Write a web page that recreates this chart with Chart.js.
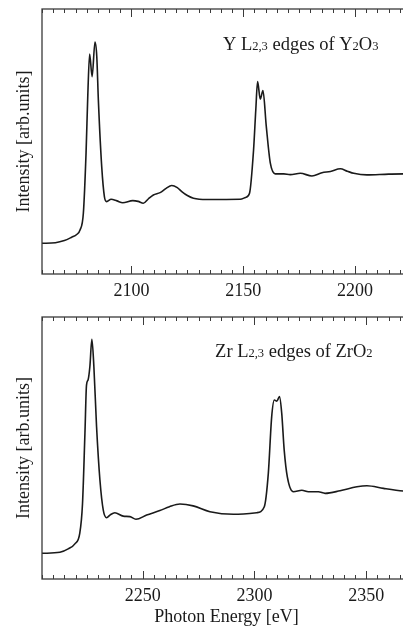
<!DOCTYPE html>
<html>
<head>
<meta charset="utf-8">
<script src="https://cdn.jsdelivr.net/npm/chart.js@4"></script>
<style>
  html, body { margin: 0; padding: 0; background: #fff; overflow: hidden; width: 403px; height: 628px; }
  .panel { position: absolute; left: 0; width: 412px; }
  #topBox { top: 0; height: 310px; }
  #botBox { top: 310px; height: 318px; }
</style>
</head>
<body>
<div id="topBox" class="panel"><canvas id="topChart"></canvas></div>
<div id="botBox" class="panel"><canvas id="botChart"></canvas></div>
<script>
// Y L2,3 edges of Y2O3
const topEnergy = [2060, 2066, 2070, 2073.3, 2075.5, 2077, 2078.5, 2079.7, 2080.5, 2081.3, 2082.4, 2083.7, 2084.5, 2085.2, 2086.7, 2087.9, 2088.9, 2090.9, 2093.5, 2096.1, 2100.6, 2103, 2105.3, 2107.5, 2109.8, 2112.8, 2115.5, 2118, 2120.5, 2122.5, 2125, 2127.7, 2133.7, 2148.6, 2151, 2152.8, 2154.6, 2155.6, 2156.4, 2157.6, 2158.8, 2160.3, 2162.1, 2164.3, 2168.1, 2171, 2175.5, 2180.7, 2185.2, 2189, 2193.4, 2196.5, 2199.4, 2205.3, 2215, 2225];
const topIntensity = [11.6, 11.8, 12.6, 13.9, 14.9, 16.6, 23.0, 45.7, 68, 83.0, 74.5, 87.5, 82, 65.7, 40.5, 29.2, 27.3, 28.2, 27.6, 26.9, 27.7, 27.4, 26.7, 28.3, 29.8, 30.7, 32.3, 33.4, 32.6, 31.1, 29.6, 28.6, 28.1, 28.2, 28.9, 30.5, 46.8, 62, 72.6, 66.0, 69.2, 55.6, 41.8, 37.8, 37.8, 37.5, 38.0, 37.0, 38.2, 38.7, 39.7, 38.8, 38.0, 37.4, 37.7, 37.8];
const topTicks = [2100, 2150, 2200];

// Zr L2,3 edges of ZrO2
const botEnergy = [2205, 2213, 2216.7, 2219.7, 2221.9, 2223.1, 2224.2, 2224.9, 2225.6, 2226.4, 2227.3, 2228.2, 2229.4, 2230.9, 2232.4, 2233.9, 2235.5, 2237.6, 2241.3, 2244.3, 2247, 2251.8, 2257.7, 2262, 2266.7, 2272.6, 2280.1, 2290.6, 2301, 2304.4, 2306.2, 2307.7, 2308.9, 2310, 2311.2, 2312.2, 2313.3, 2314.7, 2317.4, 2321.2, 2324.1, 2328.6, 2331.6, 2338.3, 2345.8, 2350.3, 2357.7, 2366.5, 2370];
const botIntensity = [9.8, 10.2, 11.5, 13.4, 17.5, 28.5, 55.6, 74.0, 76.0, 81.0, 91.5, 81.0, 58.1, 37.8, 26.3, 23.4, 24.5, 25.3, 24.0, 23.8, 22.8, 24.4, 26.1, 27.6, 28.6, 27.9, 25.7, 24.7, 25.3, 27.6, 40.3, 61.9, 68.3, 67.9, 69.6, 63.2, 49.2, 39.0, 33.3, 33.9, 33.3, 33.3, 32.7, 33.7, 35.2, 35.6, 34.6, 33.6, 33.4];
const botTicks = [2250, 2300, 2350];

const serif = '"Liberation Serif", "DejaVu Serif", serif';

// frame + inward ticks (every 5 eV, long every 50)
const framePlugin = {
    id: 'frame',
    afterDraw(chart) {
        const ctx = chart.ctx;
        const a = chart.chartArea;
        const xs = chart.scales.x;
        ctx.save();
        ctx.strokeStyle = '#3a3a3a';
        ctx.lineWidth = 1.3;
        ctx.strokeRect(a.left, a.top, a.right - a.left, a.bottom - a.top);
        ctx.lineWidth = 1;
        ctx.beginPath();
        for (let v = Math.ceil(xs.min / 5) * 5; v <= xs.max; v += 5) {
            const px = Math.round(xs.getPixelForValue(v)) + 0.5;
            const len = v % 50 === 0 ? 8 : 4;
            ctx.moveTo(px, a.bottom);
            ctx.lineTo(px, a.bottom - len);
            ctx.moveTo(px, a.top);
            ctx.lineTo(px, a.top + len);
        }
        ctx.stroke();
        ctx.restore();
    }
};

// label with subscripts, placed in data coordinates
const labelPlugin = {
    id: 'subLabel',
    afterDraw(chart, args, opts) {
        if (!opts.parts) return;
        const ctx = chart.ctx;
        let x = chart.scales.x.getPixelForValue(opts.x);
        const y = chart.scales.y.getPixelForValue(opts.y);
        ctx.save();
        ctx.fillStyle = '#1a1a1a';
        ctx.textBaseline = 'alphabetic';
        opts.parts.forEach(p => {
            ctx.font = (p[1] ? '12.5px ' : '18.5px ') + serif;
            ctx.fillText(p[0], x, y);
            x += ctx.measureText(p[0]).width;
        });
        ctx.restore();
    }
};

function makeChart(id, energy, intensity, ticks, range, pad, axisH, xTitle, label) {
    const ctx = document.getElementById(id).getContext('2d');
    return new Chart(ctx, {
        type: 'line',
        data: {
            datasets: [{
                data: energy.map((e, i) => ({ x: e, y: intensity[i] })),
                borderColor: '#1a1a1a',
                borderWidth: 1.6,
                pointRadius: 0,
                fill: false,
                cubicInterpolationMode: 'monotone'
            }]
        },
        options: {
            responsive: true,
            maintainAspectRatio: false,
            animation: false,
            layout: { padding: pad },
            plugins: {
                legend: { display: false },
                tooltip: { enabled: false },
                subLabel: label
            },
            scales: {
                x: {
                    type: 'linear',
                    min: range[0],
                    max: range[1],
                    afterBuildTicks: s => { s.ticks = ticks.map(v => ({ value: v })); },
                    afterFit: s => { s.height = axisH; },
                    grid: { display: false, drawTicks: false },
                    border: { display: false },
                    ticks: {
                        color: '#1a1a1a',
                        padding: 6,
                        maxRotation: 0,
                        callback: v => String(v),
                        font: { family: serif, size: 18 }
                    },
                    title: {
                        display: !!xTitle,
                        text: xTitle,
                        color: '#1a1a1a',
                        padding: { top: 0, bottom: 0 },
                        font: { family: serif, size: 18 }
                    }
                },
                y: {
                    min: 0,
                    max: 100,
                    afterFit: s => { s.width = 42; },
                    grid: { display: false },
                    border: { display: false },
                    ticks: { display: false },
                    title: {
                        display: true,
                        text: 'Intensity [arb.units]',
                        color: '#1a1a1a',
                        padding: { top: 13, bottom: 0 },
                        font: { family: serif, size: 18 }
                    }
                }
            }
        },
        plugins: [framePlugin, labelPlugin]
    });
}

makeChart('topChart', topEnergy, topIntensity, topTicks, [2060, 2225],
    { left: 0, top: 9, right: 1, bottom: 0 }, 36, '',
    { x: 2140.9, y: 84.6, parts: [['Y L', 0], ['2,3', 1], [' edges of Y', 0], ['2', 1], ['O', 0], ['3', 1]] });

makeChart('botChart', botEnergy, botIntensity, botTicks, [2205, 2370],
    { left: 0, top: 7, right: 1, bottom: 0 }, 49, 'Photon Energy [eV]',
    { x: 2282.4, y: 84.8, parts: [['Zr L', 0], ['2,3', 1], [' edges of ZrO', 0], ['2', 1]] });
</script>
</body>
</html>
